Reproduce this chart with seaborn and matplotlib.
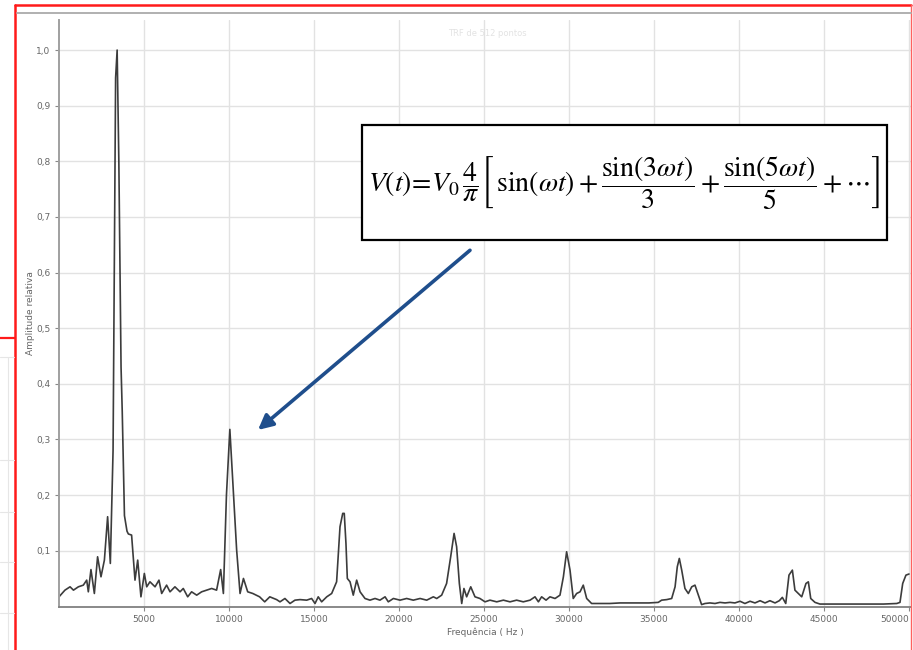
import matplotlib
matplotlib.use("Agg")
import matplotlib.pyplot as plt
from matplotlib.patches import Rectangle
from matplotlib.lines import Line2D
from matplotlib.ticker import FuncFormatter
import seaborn as sns

# Frequency spectrum (FFT of a square wave) - frequency in Hz, relative amplitude
freq_hz = [
    0, 350, 650, 850, 1140, 1430, 1630, 1725, 1880, 2080, 2270, 2470, 2670, 2860,
    3020, 3180, 3330, 3420, 3520, 3650, 3720, 3850, 4000, 4080, 4270, 4470, 4630,
    4820, 5020, 5160, 5350, 5650, 5880, 6040, 6330, 6530, 6820, 7120, 7310, 7570,
    7800, 8100, 8390, 8690, 8980, 9270, 9510, 9670, 9850, 10050, 10250, 10450,
    10650, 10850, 11100, 11400, 11800, 12100, 12400, 12800, 13000, 13290, 13590,
    13880, 14180, 14570, 14860, 15060, 15250, 15450, 15750, 16040, 16330, 16530,
    16690, 16780, 16880, 16960, 17120, 17310, 17510, 17710, 18000, 18290, 18590,
    18880, 19180, 19370, 19670, 20060, 20450, 20840, 21240, 21630, 22020, 22220,
    22510, 22800, 23040, 23240, 23390, 23550, 23690, 23820, 23980, 24220, 24470,
    24760, 25060, 25350, 25750, 26140, 26530, 26920, 27310, 27710, 28000, 28200,
    28390, 28650, 28880, 29180, 29470, 29670, 29860, 30060, 30250, 30450, 30650,
    30840, 31040, 31330, 31820, 32400, 33000, 33600, 34180, 34700, 35250, 35450,
    35750, 36040, 36240, 36370, 36490, 36630, 36820, 37020, 37220, 37410, 37610,
    37800, 38000, 38290, 38590, 38880, 39180, 39470, 39760, 40060, 40350, 40650,
    40940, 41240, 41530, 41820, 42120, 42370, 42550, 42750, 42940, 43140, 43290,
    43490, 43690, 43940, 44080, 44220, 44470, 44760, 45500, 46500, 47500, 48500,
    49280, 49470, 49630, 49820, 50000,
]
amplitude = [
    0.017, 0.029, 0.035, 0.029, 0.035, 0.038, 0.047, 0.026, 0.066, 0.023, 0.089,
    0.053, 0.083, 0.161, 0.077, 0.280, 0.950, 1.000, 0.800, 0.430, 0.350, 0.163,
    0.135, 0.130, 0.128, 0.047, 0.083, 0.017, 0.059, 0.035, 0.044, 0.035, 0.047,
    0.023, 0.038, 0.026, 0.035, 0.026, 0.032, 0.017, 0.026, 0.020, 0.026, 0.029,
    0.032, 0.029, 0.066, 0.023, 0.200, 0.318, 0.209, 0.101, 0.023, 0.050, 0.026,
    0.023, 0.017, 0.008, 0.017, 0.012, 0.008, 0.014, 0.005, 0.011, 0.012, 0.011,
    0.014, 0.005, 0.017, 0.008, 0.017, 0.023, 0.044, 0.143, 0.167, 0.167, 0.113,
    0.050, 0.044, 0.020, 0.047, 0.026, 0.014, 0.011, 0.014, 0.011, 0.017, 0.008,
    0.014, 0.011, 0.014, 0.011, 0.014, 0.011, 0.017, 0.014, 0.020, 0.041, 0.089,
    0.131, 0.107, 0.041, 0.005, 0.032, 0.017, 0.035, 0.017, 0.014, 0.008, 0.011,
    0.008, 0.011, 0.008, 0.011, 0.008, 0.011, 0.017, 0.008, 0.017, 0.011, 0.017,
    0.014, 0.020, 0.053, 0.098, 0.065, 0.014, 0.023, 0.026, 0.038, 0.014, 0.005,
    0.005, 0.005, 0.006, 0.006, 0.006, 0.006, 0.007, 0.011, 0.012, 0.014, 0.035,
    0.071, 0.086, 0.065, 0.032, 0.023, 0.035, 0.038, 0.020, 0.003, 0.005, 0.006,
    0.005, 0.007, 0.006, 0.007, 0.006, 0.009, 0.005, 0.009, 0.006, 0.010, 0.006,
    0.010, 0.006, 0.010, 0.016, 0.005, 0.056, 0.065, 0.029, 0.023, 0.017, 0.041,
    0.044, 0.014, 0.007, 0.004, 0.004, 0.004, 0.004, 0.004, 0.005, 0.007, 0.041,
    0.056, 0.058,
]

x_ticks = [5000, 10000, 15000, 20000, 25000, 30000, 35000, 40000, 45000, 50000]
y_ticks = [0.1, 0.2, 0.3, 0.4, 0.5, 0.6, 0.7, 0.8, 0.9, 1.0]

sns.set_style("white")
plt.rcParams["font.family"] = ["DejaVu Sans"]
plt.rcParams["mathtext.fontset"] = "stix"

W, H = 913, 650
fig = plt.figure(figsize=(W / 100, H / 100), dpi=100)
fig.patch.set_facecolor("white")


def fx(px):
    return px / W


def fy(py):
    return 1 - py / H


ax = fig.add_axes([fx(59), fy(607), (911 - 59) / W, (607 - 20) / H])

sns.lineplot(x=freq_hz, y=amplitude, ax=ax, color="#3c3c3c", linewidth=1.2,
             sort=False, estimator=None)

ax.set_xlim(0, 50118)
ax.set_ylim(-0.0013, 1.054)
ax.set_xticks(x_ticks)
ax.set_yticks(y_ticks)
ax.yaxis.set_major_formatter(FuncFormatter(lambda v, p: f"{v:.1f}".replace(".", ",")))
ax.xaxis.set_major_formatter(FuncFormatter(lambda v, p: f"{int(v)}"))
ax.grid(True, color="#e2e2e2", linewidth=1.0)
ax.set_axisbelow(True)
ax.tick_params(axis="both", labelsize=6.5, labelcolor="#666666", color="#888888",
               length=3, width=0.8, pad=3, direction="out", bottom=True, left=True)
for side in ("top", "right"):
    ax.spines[side].set_visible(False)
ax.spines["left"].set_color("#a0a0a0")
ax.spines["left"].set_linewidth(1.4)
ax.spines["bottom"].set_color("#808080")
ax.spines["bottom"].set_linewidth(1.3)

# the last frequency label sits against the right edge of the frame
fig.canvas.draw()
ax.get_xticklabels()[-1].set_horizontalalignment("right")

ax.set_xlabel("Frequência ( Hz )", fontsize=6.5, color="#666666", labelpad=2)
ax.set_ylabel("Amplitude relativa", fontsize=6.5, color="#666666", labelpad=1)

# faint chart title
fig.text(fx(487), fy(33), "TRF de 512 pontos", fontsize=6, color="#e3e3e3",
         ha="center", va="center")

# arrow pointing at the 3rd harmonic
ax.annotate("", xy=(11706, 0.317), xytext=(24176, 0.640),
            arrowprops=dict(arrowstyle="-|>", color="#1F4E8C", lw=2.6,
                            mutation_scale=22, shrinkA=0, shrinkB=0))

# formula box
fig.add_artist(Rectangle((fx(362), fy(240)), (887 - 362) / W, (240 - 125) / H,
                         transform=fig.transFigure, facecolor="white",
                         edgecolor="black", linewidth=1.6, zorder=5))
fig.text(fx(624), fy(183),
         r"$V\left(t\right)\!=\!V_0\,\dfrac{4}{\pi}\left[\,\sin(\omega t)+\dfrac{\sin(3\omega t)}{3}+\dfrac{\sin(5\omega t)}{5}+\cdots\right]$",
         fontsize=20, color="black", ha="center", va="center", zorder=6)

# slide frame around the chart
def seg(x0, y0, x1, y1, color, lw):
    fig.add_artist(Line2D([fx(x0), fx(x1)], [fy(y0), fy(y1)],
                          transform=fig.transFigure, color=color, linewidth=lw,
                          zorder=10))


seg(15, 5, 911, 5, "#ff1a1a", 1.8)
seg(15, 5, 15, 650, "#ff1a1a", 1.8)
seg(911, 5, 911, 650, "#ff6060", 1.0)
seg(17, 13, 911, 13, "#b0b0b0", 1.4)
seg(0, 338, 15, 338, "#ff1a1a", 1.6)
for yy in (357, 460, 512, 562, 613):
    seg(0, yy, 14, yy, "#e6e6e6", 0.8)
seg(8, 357, 8, 650, "#e6e6e6", 0.8)

fig.savefig("out.png", dpi=100, facecolor="white")
